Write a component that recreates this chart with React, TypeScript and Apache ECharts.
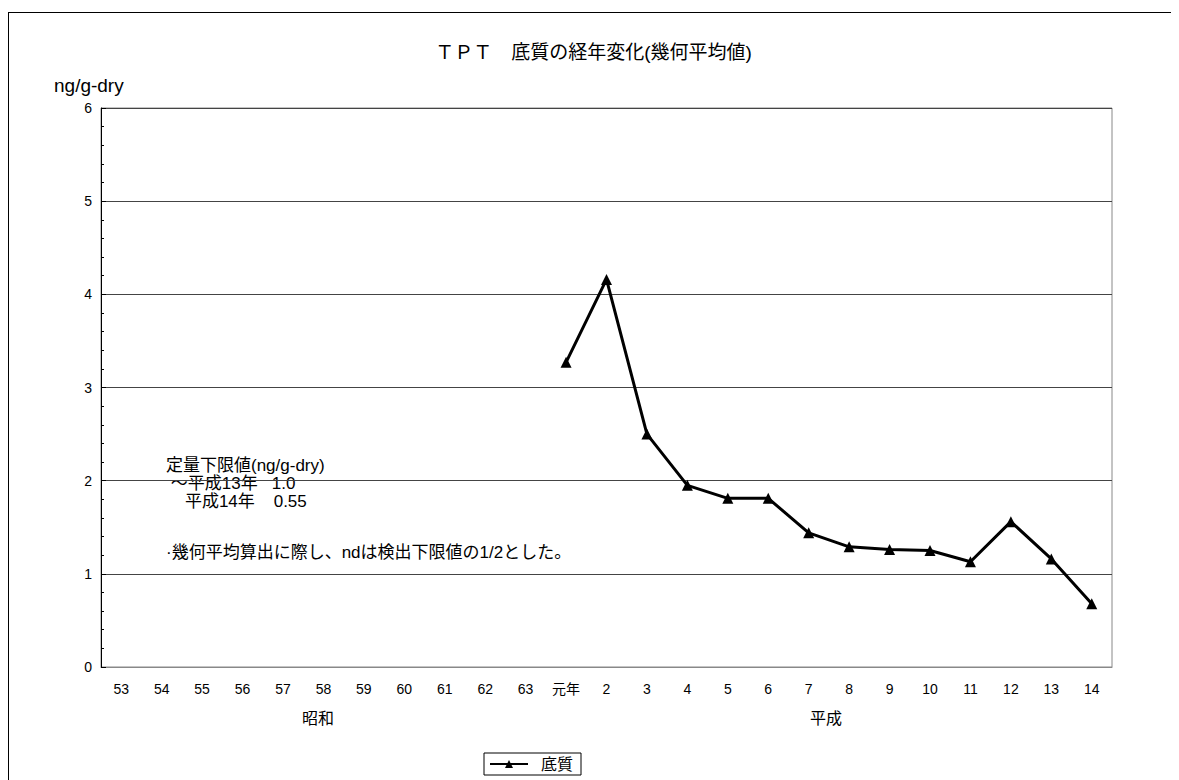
import React, { useEffect, useRef } from "react";
import * as echarts from "echarts";

const categories = ["53", "54", "55", "56", "57", "58", "59", "60", "61", "62", "63", "元年", "2", "3", "4", "5", "6", "7", "8", "9", "10", "11", "12", "13", "14"];
const sedimentValues: (number | null)[] = [null, null, null, null, null, null, null, null, null, null, null, 3.27, 4.16, 2.5, 1.95, 1.81, 1.81, 1.44, 1.29, 1.26, 1.25, 1.13, 1.56, 1.16, 0.68];
const yTicks = { min: 0, max: 6, interval: 1 };
const titleText = "ＴＰＴ　底質の経年変化(幾何平均値)";
const seriesName = "底質";
const noteLines = ["定量下限値(ng/g-dry)", " ～平成13年   1.0", "    平成14年    0.55", "", "·幾何平均算出に際し、ndは検出下限値の1/2とした。"];

const FONT = "'Liberation Sans', Arial, 'Noto Sans CJK JP', sans-serif";

export default function App() {
  const ref = useRef<HTMLDivElement>(null);
  useEffect(() => {
    if (!ref.current) return;
    document.documentElement.style.overflow = "hidden";
    document.body.style.overflow = "hidden";
    const chart = echarts.init(ref.current, undefined, { renderer: "svg" });
    chart.setOption({
      animation: false,
      backgroundColor: "#fff",
      textStyle: { fontFamily: FONT },
      title: {
        text: titleText,
        left: "center",
        top: 30,
        textStyle: { fontSize: 19, fontWeight: "normal", color: "#000", fontFamily: FONT },
      },
      grid: { left: 93, right: 67, top: 100, bottom: 113, show: true, borderColor: "#888", borderWidth: 1 },
      legend: {
        left: 476,
        top: 745,
        data: [seriesName],
        borderColor: "#000",
        borderWidth: 1,
        padding: [3, 8, 3, 5],
        itemWidth: 38,
        itemHeight: 10,
        textStyle: { fontSize: 16, color: "#000", fontFamily: FONT, padding: [0, 0, 0, 8] },
      },
      xAxis: {
        type: "category",
        data: categories,
        boundaryGap: true,
        axisLine: { lineStyle: { color: "#888" } },
        axisTick: { show: false },
        axisLabel: { color: "#000", fontSize: 14, margin: 15, interval: 0, fontFamily: FONT },
        splitLine: { show: false },
      },
      yAxis: {
        type: "value",
        min: yTicks.min,
        max: yTicks.max,
        interval: yTicks.interval,
        axisLine: { show: true, lineStyle: { color: "#000" } },
        axisTick: { show: true, inside: true, length: 5, lineStyle: { color: "#000" } },
        minorTick: { show: true, splitNumber: 5, length: 3, lineStyle: { color: "#000" } },
        axisLabel: { color: "#000", fontSize: 14, margin: 9, fontFamily: FONT },
        splitLine: { show: true, lineStyle: { color: "#444", width: 1 } },
      },
      series: [
        {
          name: seriesName,
          type: "line",
          data: sedimentValues,
          connectNulls: false,
          symbol: "triangle",
          symbolSize: 11,
          itemStyle: { color: "#000" },
          lineStyle: { color: "#000", width: 3 },
        },
      ],
      graphic: [
        { type: "text", x: 46, y: 68, style: { text: "ng/g-dry", fontSize: 19, fill: "#000", fontFamily: FONT } },
        ...noteLines.map((t, i) => ({
          type: "text",
          x: 158,
          y: 449 + i * 18 + (i === 4 ? 15 : 0),
          style: { text: t, fontSize: 17, fill: "#000", fontFamily: FONT },
        })),
        { type: "text", x: 310, y: 702, style: { text: "昭和", fontSize: 16, fill: "#000", fontFamily: FONT, align: "center" } },
        { type: "text", x: 818, y: 702, style: { text: "平成", fontSize: 16, fill: "#000", fontFamily: FONT, align: "center" } },
      ],
    });
    return () => chart.dispose();
  }, []);
  return (
    <div style={{ position: "relative", width: 1171, height: 772, overflow: "hidden" }}>
      <div ref={ref} style={{ position: "absolute", left: 0, top: 0, width: 1171, height: 772 }} />
      <div
        style={{
          position: "absolute",
          left: 0,
          top: 4,
          width: 1300,
          height: 900,
          borderTop: "1.5px solid #000",
          borderLeft: "1.5px solid #000",
          pointerEvents: "none",
          boxSizing: "border-box",
        }}
      />
    </div>
  );
}
